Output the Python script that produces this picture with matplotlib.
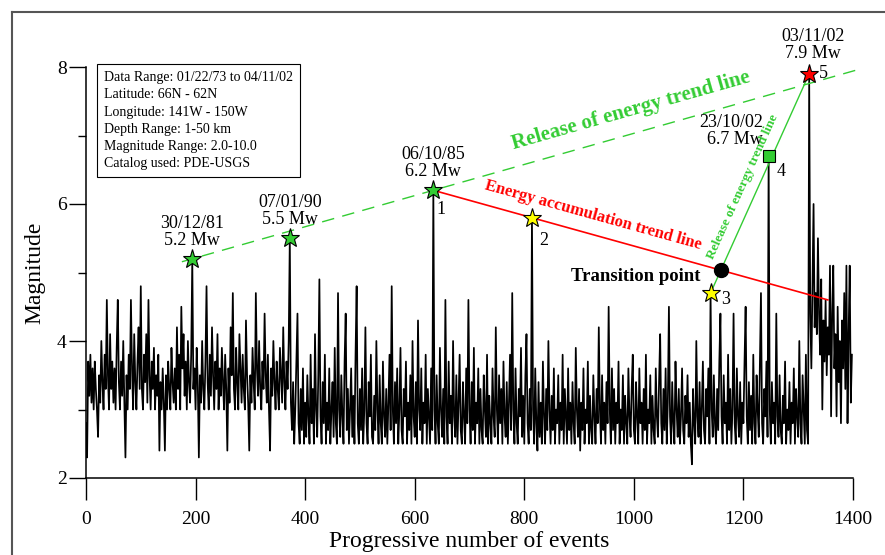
import numpy as np
import matplotlib
matplotlib.use("Agg")
import matplotlib.pyplot as plt
from matplotlib.lines import Line2D

plt.rcParams["font.family"] = ["Liberation Serif", "DejaVu Serif"]

# Magnitude x10, one value every 2 events (events 0 .. 1398)
EVENT_STEP = 2
mag_x10 = [
    28, 23, 37, 32, 38, 31, 36, 30, 37, 33, 30, 26, 35, 31, 40, 34, 30, 38, 33, 46, 35, 30, 41, 33, 37,
    31, 36, 30, 39, 46, 34, 30, 37, 32, 40, 31, 23, 35, 30, 38, 33, 46, 36, 30, 41, 34, 30, 37, 42, 33,
    48, 33, 30, 38, 34, 41, 31, 46, 35, 30, 37, 33, 39, 30, 35, 32, 38, 24, 34, 30, 36, 31, 24, 35, 30,
    37, 33, 30, 39, 34, 31, 36, 30, 42, 33, 38, 30, 45, 36, 41, 32, 37, 30, 40, 34, 31, 38, 52, 33, 36,
    30, 39, 34, 23, 35, 31, 40, 33, 30, 37, 48, 34, 30, 38, 32, 42, 35, 30, 37, 33, 41, 30, 36, 32, 39,
    34, 30, 38, 33, 24, 36, 31, 42, 35, 47, 33, 30, 39, 34, 30, 41, 36, 31, 38, 33, 30, 43, 35, 31, 24,
    35, 31, 39, 34, 30, 47, 36, 32, 40, 33, 30, 37, 33, 44, 35, 31, 38, 30, 24, 36, 32, 40, 34, 30, 37,
    33, 30, 39, 35, 31, 42, 34, 30, 37, 33, 40, 55, 31, 27, 34, 25, 30, 37, 44, 28, 25, 33, 27, 36, 25,
    31, 26, 35, 29, 25, 38, 28, 33, 25, 41, 30, 26, 35, 49, 29, 25, 34, 28, 38, 25, 31, 27, 36, 25, 30,
    34, 26, 39, 28, 25, 47, 30, 26, 35, 29, 25, 37, 44, 27, 33, 25, 30, 36, 26, 32, 25, 38, 48, 28, 25,
    33, 27, 36, 25, 30, 42, 28, 25, 34, 29, 38, 26, 25, 32, 27, 40, 30, 25, 35, 28, 25, 37, 29, 26, 33,
    25, 31, 38, 27, 48, 30, 25, 34, 28, 36, 25, 30, 39, 27, 25, 33, 29, 37, 25, 31, 27, 35, 25, 40, 29,
    26, 34, 25, 43, 30, 27, 36, 25, 31, 28, 38, 25, 33, 29, 25, 36, 27, 62, 30, 25, 35, 28, 25, 39, 30,
    26, 33, 25, 46, 29, 25, 37, 28, 32, 25, 40, 29, 26, 35, 25, 31, 38, 27, 25, 34, 29, 25, 36, 28, 46,
    30, 25, 34, 27, 39, 25, 31, 28, 36, 25, 33, 27, 25, 35, 30, 26, 38, 25, 32, 28, 25, 36, 29, 26, 42,
    30, 25, 35, 28, 33, 25, 37, 29, 26, 34, 25, 31, 38, 27, 47, 30, 25, 36, 28, 25, 33, 29, 39, 26, 32,
    25, 35, 41, 28, 25, 33, 27, 58, 30, 25, 36, 28, 24, 34, 26, 31, 25, 37, 29, 25, 33, 27, 40, 30, 25,
    32, 27, 36, 25, 30, 28, 35, 25, 31, 27, 38, 25, 33, 29, 25, 36, 27, 31, 25, 34, 28, 25, 39, 30, 26,
    33, 24, 31, 27, 36, 25, 30, 28, 37, 25, 32, 27, 25, 35, 29, 25, 33, 28, 42, 30, 25, 35, 27, 31, 25,
    34, 28, 45, 30, 25, 36, 27, 33, 25, 31, 28, 37, 25, 30, 27, 35, 25, 32, 28, 25, 36, 29, 26, 33, 38,
    27, 25, 34, 29, 25, 36, 28, 31, 25, 33, 27, 38, 25, 30, 28, 35, 25, 32, 27, 25, 36, 29, 26, 34, 41,
    28, 25, 33, 27, 36, 25, 31, 45, 29, 25, 34, 28, 25, 37, 30, 26, 33, 25, 29, 36, 27, 25, 32, 28, 35,
    26, 31, 25, 22, 33, 28, 25, 40, 29, 26, 34, 25, 30, 37, 27, 25, 33, 29, 36, 25, 47, 30, 26, 35, 28,
    25, 33, 27, 37, 44, 29, 25, 35, 28, 31, 25, 38, 27, 33, 25, 30, 44, 28, 25, 36, 29, 26, 34, 25, 31,
    28, 37, 45, 29, 25, 34, 27, 32, 25, 38, 28, 25, 35, 30, 26, 36, 47, 28, 25, 33, 29, 37, 26, 67, 30,
    25, 34, 28, 31, 25, 44, 29, 26, 35, 27, 25, 32, 28, 37, 25, 30, 27, 34, 25, 31, 28, 36, 25, 33, 29,
    26, 40, 28, 25, 35, 30, 25, 38, 27, 25, 79, 44, 36, 48, 60, 42, 47, 41, 55, 44, 38, 49, 30, 43, 37,
    46, 35, 42, 38, 51, 29, 44, 51, 36, 41, 29, 45, 34, 40, 28, 43, 36, 47, 33, 51, 28, 41, 51, 31, 38,
]

# highlighted earthquakes
key_events = [194, 372, 634, 814, 1140, 1246, 1320]
key_mags = [5.2, 5.5, 6.2, 5.8, 4.7, 6.7, 7.9]
key_dates = ["30/12/81", "07/01/90", "06/10/85", "", "", "23/10/02", "03/11/02"]
key_numbers = ["", "", "1", "2", "3", "4", "5"]

info_lines = [
    "Data Range: 01/22/73 to 04/11/02",
    "Latitude: 66N - 62N",
    "Longitude: 141W - 150W",
    "Depth Range: 1-50 km",
    "Magnitude Range: 2.0-10.0",
    "Catalog used: PDE-USGS",
]

mags = np.array(mag_x10, dtype=float) / 10.0
events = np.arange(len(mags)) * EVENT_STEP
for e, m in zip(key_events, key_mags):
    mags[e // EVENT_STEP] = m

GREEN = "#33cc33"
RED = "#ff0000"

fig = plt.figure(figsize=(8.85, 5.55), dpi=100)
ax = fig.add_axes([86 / 885, 1 - 478 / 555, 767 / 885, 411 / 555])
ax.set_xlim(0, 1400)
ax.set_ylim(2, 8)

# outer frame (top + left only, runs off the page)
fx, fy = 12 / 885, 1 - 12 / 555
fig.add_artist(Line2D([fx, fx], [0, fy], color="#555555", lw=1.5))
fig.add_artist(Line2D([fx, 1], [fy, fy], color="#555555", lw=1.5))

# the catalogue series
ax.plot(events, mags, color="black", lw=1.25, zorder=2)

# trend lines
ex = np.array(key_events, dtype=float)
ey = np.array(key_mags)

rel_slope = (ey[2] - ey[0]) / (ex[2] - ex[0])
rel_x = np.array([175.0, 1410.0])
rel_y = ey[0] + rel_slope * (rel_x - ex[0])
ax.plot(rel_x, rel_y, color=GREEN, lw=1.0, ls=(0, (9, 6)), clip_on=False, zorder=3)

acc_slope = (ey[3] - ey[2]) / (ex[3] - ex[2])
acc_x = np.array([ex[2], 1354.0])
acc_y = ey[2] + acc_slope * (acc_x - ex[2])
ax.plot(acc_x, acc_y, color=RED, lw=1.2, zorder=3)

steep_slope = (ey[6] - ey[4]) / (ex[6] - ex[4])
ax.plot([ex[4], ex[6]], [ey[4], ey[6]], color=GREEN, lw=1.0, zorder=3)

# transition point = crossing of the accumulation and steep release lines
tx = (ey[4] - ey[2] + acc_slope * ex[2] - steep_slope * ex[4]) / (acc_slope - steep_slope)
ty = ey[2] + acc_slope * (tx - ex[2])
ax.plot([tx], [ty], "o", color="black", ms=10, zorder=5)
ax.annotate("Transition point", (tx, ty), xytext=(-20, -6), textcoords="offset pixels",
            ha="right", va="center", fontsize=13.5, fontweight="bold")

# markers
marker_style = [
    ("*", GREEN, 14), ("*", GREEN, 14), ("*", GREEN, 14), ("*", "#ffff00", 14),
    ("*", "#ffff00", 14), ("s", GREEN, 9), ("*", RED, 14),
]
for x, y, (mk, col, ms) in zip(ex, ey, marker_style):
    ax.plot([x], [y], mk, ms=ms, mfc=col, mec="black", mew=0.8, clip_on=False, zorder=6)

# date / magnitude labels
date_offsets = {0: (0, 10, "center"), 1: (0, 10, "center"), 2: (0, 10, "center"),
                5: (-6, 8, "right"), 6: (4, 12, "center")}
for i, (dx, dy, ha) in date_offsets.items():
    ax.annotate(f"{key_dates[i]}\n{key_mags[i]:.1f} Mw", (ex[i], ey[i]), xytext=(dx, dy),
                textcoords="offset pixels", ha=ha, va="bottom", fontsize=13,
                linespacing=1.0, annotation_clip=False)

num_offsets = {2: (8, -19), 3: (12, -23), 4: (15, -6), 5: (12, -15), 6: (14, 0)}
for i, (dx, dy) in num_offsets.items():
    ax.annotate(key_numbers[i], (ex[i], ey[i]), xytext=(dx, dy), textcoords="offset pixels",
                ha="center", va="center", fontsize=13, annotation_clip=False)


def screen_angle(x0, y0, x1, y1):
    p0 = ax.transData.transform((x0, y0))
    p1 = ax.transData.transform((x1, y1))
    return np.degrees(np.arctan2(p1[1] - p0[1], p1[0] - p0[0]))


# trend line captions
ang = screen_angle(rel_x[0], rel_y[0], rel_x[1], rel_y[1])
cx = 994.0
ax.annotate("Release of energy trend line", (cx, ey[0] + rel_slope * (cx - ex[0])),
            xytext=(0, 24), textcoords="offset pixels", ha="center", va="center",
            rotation=ang, rotation_mode="anchor", fontsize=15, fontweight="bold", color=GREEN)

ang = screen_angle(acc_x[0], acc_y[0], acc_x[1], acc_y[1])
cx = 925.0
ax.annotate("Energy accumulation trend line", (cx, ey[2] + acc_slope * (cx - ex[2])),
            xytext=(0, 19), textcoords="offset pixels", ha="center", va="center",
            rotation=ang, rotation_mode="anchor", fontsize=12, fontweight="bold", color=RED)

ang = screen_angle(ex[4], ey[4], ex[6], ey[6])
cy = 6.2
ax.annotate("Release of energy trend line", (ex[4] + (cy - ey[4]) / steep_slope, cy),
            xytext=(-14, 4), textcoords="offset pixels", ha="center", va="center",
            rotation=ang, rotation_mode="anchor", fontsize=9.5, fontweight="bold", color=GREEN)

# info box
ax.text(0.0235, 0.99, "\n".join(info_lines), transform=ax.transAxes, ha="left", va="top",
        fontsize=10, linespacing=1.42,
        bbox=dict(boxstyle="square,pad=0.5", facecolor="white", edgecolor="black", lw=0.8))

# axes styling
for side in ("top", "right"):
    ax.spines[side].set_visible(False)
for side in ("left", "bottom"):
    ax.spines[side].set_linewidth(1.1)

ax.set_xticks(np.arange(0, 1401, 200))
ax.set_yticks([2, 4, 6, 8])
ax.set_yticks([3, 5, 7], minor=True)
ax.tick_params(axis="x", direction="out", length=16, width=1.0, pad=8, labelsize=14)
ax.tick_params(axis="y", which="major", direction="out", length=12, width=1.0, pad=2, labelsize=14)
ax.tick_params(axis="y", which="minor", direction="out", length=6, width=1.0)

ax.set_xlabel("Progressive number of events", fontsize=17, labelpad=2)
ax.set_ylabel("Magnitude", fontsize=17, labelpad=8)

fig.savefig("out.png", dpi=100)
